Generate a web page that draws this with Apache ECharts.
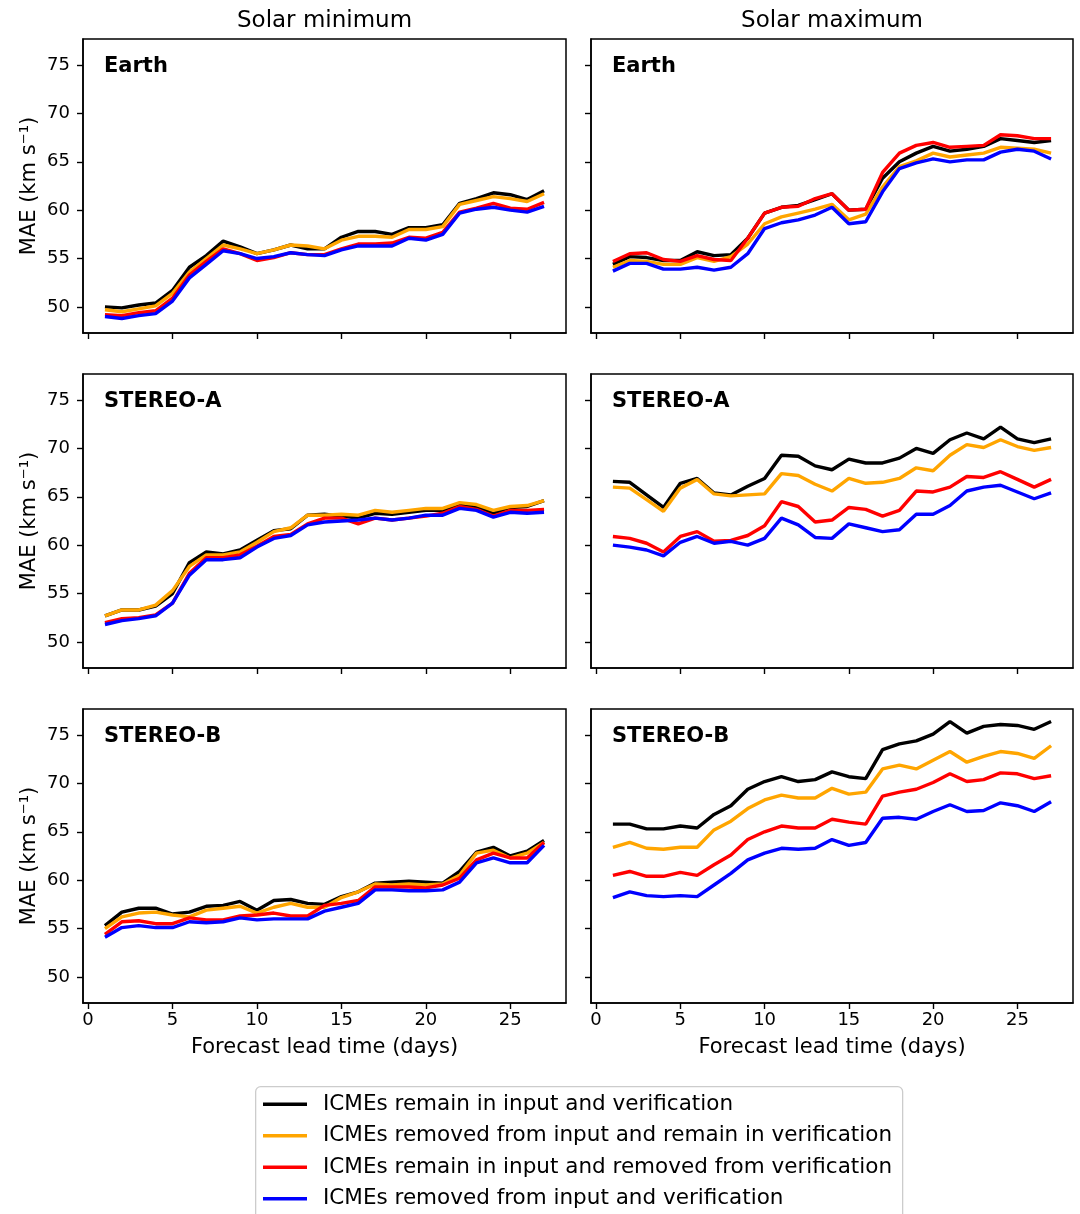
<!DOCTYPE html>
<html>
<head>
<meta charset="utf-8">
<script src="https://cdn.jsdelivr.net/npm/echarts@6/dist/echarts.min.js"></script>
<style>
html,body{margin:0;padding:0;background:#fff;}
#chart{width:1080px;height:1214px;}
</style>
</head>
<body>
<div id="chart"></div>
<script>
// ---------------- DATA ----------------
const days = [1,2,3,4,5,6,7,8,9,10,11,12,13,14,15,16,17,18,19,20,21,22,23,24,25,26,27];
const seriesNames = [
  'ICMEs remain in input and verification',
  'ICMEs removed from input and remain in verification',
  'ICMEs remain in input and removed from verification',
  'ICMEs removed from input and verification'
];
const columnTitles = ['Solar minimum', 'Solar maximum'];
const panelLabels = ['Earth', 'STEREO-A', 'STEREO-B'];
const xTicks = [0, 5, 10, 15, 20, 25];
const yTicks = [50, 55, 60, 65, 70, 75];
const xLabel = 'Forecast lead time (days)';
const yLabel = 'MAE (km s\u207B\u00B9)';

// Earth, solar minimum
const earthMinBlack  = [50.0,49.9,50.2,50.4,51.7,54.1,55.3,56.8,56.2,55.5,55.9,56.4,56.0,56.0,57.2,57.8,57.8,57.5,58.2,58.2,58.5,60.7,61.2,61.8,61.6,61.1,62.0];
const earthMinOrange = [49.7,49.5,49.8,50.1,51.4,53.6,55.0,56.4,56.0,55.5,55.9,56.4,56.3,56.0,56.9,57.3,57.3,57.2,58.0,58.0,58.3,60.6,61.0,61.4,61.2,60.9,61.7];
const earthMinRed    = [49.2,49.1,49.4,49.6,50.9,53.3,54.7,56.0,55.5,54.8,55.1,55.6,55.4,55.4,56.0,56.5,56.5,56.6,57.2,57.1,57.7,59.8,60.2,60.7,60.2,60.1,60.8];
const earthMinBlue   = [49.0,48.8,49.1,49.3,50.6,53.0,54.4,55.8,55.5,55.0,55.2,55.6,55.4,55.3,55.9,56.3,56.3,56.3,57.1,56.9,57.5,59.7,60.1,60.3,60.0,59.8,60.4];

// Earth, solar maximum
const earthMaxBlack  = [54.4,55.2,55.1,54.8,54.8,55.7,55.3,55.4,57.1,59.7,60.3,60.5,61.1,61.7,60.0,60.1,63.3,65.0,65.9,66.6,66.1,66.3,66.6,67.4,67.2,67.0,67.2];
const earthMaxOrange = [54.1,54.8,54.7,54.4,54.4,55.1,54.7,55.2,56.5,58.6,59.3,59.7,60.1,60.6,59.0,59.6,62.4,64.5,65.1,65.9,65.5,65.7,65.9,66.5,66.4,66.3,65.9];
const earthMaxRed    = [54.7,55.5,55.6,54.9,54.7,55.3,54.9,54.8,57.1,59.7,60.3,60.4,61.2,61.7,60.0,60.1,63.9,65.9,66.7,67.0,66.5,66.6,66.7,67.8,67.7,67.4,67.4];
const earthMaxBlue   = [53.7,54.5,54.5,53.9,53.9,54.1,53.8,54.1,55.5,58.1,58.7,59.0,59.5,60.3,58.6,58.8,61.9,64.3,64.9,65.3,65.0,65.2,65.2,66.0,66.3,66.1,65.3];

// STEREO-A, solar minimum
const staMinBlack  = [52.7,53.3,53.3,53.7,55.0,58.2,59.3,59.1,59.5,60.5,61.5,61.7,63.1,63.2,63.0,62.8,63.3,63.2,63.4,63.6,63.6,64.2,64.0,63.3,63.9,64.0,64.6];
const staMinOrange = [52.7,53.3,53.3,53.8,55.3,57.8,59.0,59.0,59.3,60.3,61.4,61.8,63.1,63.1,63.2,63.1,63.6,63.4,63.6,63.8,63.8,64.4,64.2,63.6,64.0,64.1,64.6];
const staMinRed    = [52.0,52.4,52.5,52.8,54.0,57.1,58.7,58.7,59.0,59.9,60.9,61.1,62.2,62.8,62.8,62.2,62.8,62.6,62.8,63.0,63.3,64.0,63.7,63.0,63.6,63.6,63.7];
const staMinBlue   = [51.8,52.2,52.4,52.7,54.0,56.9,58.5,58.5,58.7,59.8,60.7,61.0,62.1,62.4,62.5,62.6,62.8,62.6,62.8,63.1,63.1,63.8,63.6,62.9,63.4,63.3,63.4];

// STEREO-A, solar maximum
const staMaxBlack  = [66.6,66.5,65.2,63.9,66.4,66.9,65.4,65.2,66.1,66.9,69.3,69.2,68.2,67.8,68.9,68.5,68.5,69.0,70.0,69.5,70.9,71.6,71.0,72.2,71.0,70.6,71.0];
const staMaxOrange = [66.0,65.9,64.7,63.5,65.9,66.8,65.3,65.1,65.2,65.3,67.4,67.2,66.3,65.6,66.9,66.4,66.5,66.9,68.0,67.7,69.3,70.4,70.1,70.9,70.2,69.8,70.1];
const staMaxRed    = [60.9,60.7,60.2,59.3,60.9,61.4,60.4,60.5,61.0,62.0,64.5,64.0,62.4,62.6,63.9,63.7,63.0,63.6,65.6,65.5,66.0,67.1,67.0,67.6,66.8,66.0,66.8];
const staMaxBlue   = [60.0,59.8,59.5,58.9,60.3,60.9,60.2,60.4,60.0,60.7,62.8,62.1,60.8,60.7,62.2,61.8,61.4,61.6,63.2,63.2,64.1,65.6,66.0,66.2,65.5,64.8,65.4];

// STEREO-B, solar minimum
const stbMinBlack  = [55.3,56.7,57.1,57.1,56.5,56.7,57.3,57.4,57.8,56.9,57.9,58.0,57.6,57.5,58.3,58.8,59.7,59.8,59.9,59.8,59.7,60.9,62.9,63.4,62.5,63.0,64.1];
const stbMinOrange = [55.0,56.2,56.6,56.7,56.4,56.2,56.9,57.1,57.3,56.6,57.2,57.6,57.2,57.2,58.2,58.8,59.6,59.5,59.6,59.5,59.6,60.5,62.8,63.1,62.3,62.8,63.9];
const stbMinRed    = [54.4,55.7,55.8,55.5,55.5,56.1,55.9,55.9,56.3,56.4,56.6,56.3,56.3,57.4,57.6,57.9,59.3,59.3,59.3,59.2,59.5,60.2,62.1,62.8,62.3,62.3,63.9];
const stbMinBlue   = [54.1,55.1,55.3,55.1,55.1,55.7,55.6,55.7,56.1,55.9,56.0,56.0,56.0,56.8,57.2,57.6,59.0,59.0,58.9,58.9,59.0,59.8,61.8,62.3,61.8,61.8,63.6];

// STEREO-B, solar maximum
const stbMaxBlack  = [65.8,65.8,65.3,65.3,65.6,65.4,66.8,67.7,69.4,70.2,70.7,70.2,70.4,71.2,70.7,70.5,73.5,74.1,74.4,75.1,76.4,75.2,75.9,76.1,76.0,75.6,76.4];
const stbMaxOrange = [63.4,63.9,63.3,63.2,63.4,63.4,65.2,66.1,67.4,68.3,68.8,68.5,68.5,69.5,68.9,69.1,71.5,71.9,71.5,72.4,73.3,72.2,72.8,73.3,73.1,72.6,73.9];
const stbMaxRed    = [60.5,60.9,60.4,60.4,60.8,60.5,61.6,62.6,64.2,65.0,65.6,65.4,65.4,66.3,66.0,65.8,68.7,69.1,69.4,70.1,71.0,70.2,70.4,71.1,71.0,70.5,70.8];
const stbMaxBlue   = [58.2,58.8,58.4,58.3,58.4,58.3,59.5,60.7,62.1,62.8,63.3,63.2,63.3,64.2,63.6,63.9,66.4,66.5,66.3,67.1,67.8,67.1,67.2,68.0,67.7,67.1,68.1];

// panels in row-major order (row: Earth / STEREO-A / STEREO-B ; col: min / max)
const panelData = [
  [earthMinBlack, earthMinOrange, earthMinRed, earthMinBlue],
  [earthMaxBlack, earthMaxOrange, earthMaxRed, earthMaxBlue],
  [staMinBlack, staMinOrange, staMinRed, staMinBlue],
  [staMaxBlack, staMaxOrange, staMaxRed, staMaxBlue],
  [stbMinBlack, stbMinOrange, stbMinRed, stbMinBlue],
  [stbMaxBlack, stbMaxOrange, stbMaxRed, stbMaxBlue]
];

// ---------------- STYLE / LAYOUT ----------------
const FONT = 'DejaVu Sans';
const lineColors = ['#000000', '#FFA500', '#FF0000', '#0000FF'];
const colLeft = [83, 591];
const colWidth = [483, 482];
const rowTop = [39, 374, 709];
const panelHeight = 294;
const xMin = -0.3, xMax = 28.3;
const yMin = 47.3, yMax = 77.7;

const grids = [], xAxes = [], yAxes = [], series = [], graphics = [];

for (let p = 0; p < 6; p++) {
  const row = Math.floor(p / 2), col = p % 2;
  grids.push({
    left: colLeft[col], top: rowTop[row], width: colWidth[col], height: panelHeight,
    show: true, borderColor: '#000', borderWidth: 1.5, backgroundColor: 'rgba(0,0,0,0)',
    containLabel: false
  });
  xAxes.push({
    gridIndex: p, type: 'value', min: xMin, max: xMax,
    axisLine: { show: true, onZero: false, lineStyle: { color: '#000', width: 1.5 } },
    axisTick: { show: true, customValues: xTicks, length: 6, inside: false, lineStyle: { color: '#000', width: 1.4 } },
    axisLabel: { show: row === 2, customValues: xTicks, color: '#000', fontSize: 18, fontFamily: FONT, margin: 8 },
    splitLine: { show: false },
    name: row === 2 ? xLabel : '',
    nameLocation: 'middle', nameGap: 34,
    nameTextStyle: { fontSize: 21, color: '#000', fontFamily: FONT }
  });
  yAxes.push({
    gridIndex: p, type: 'value', min: yMin, max: yMax,
    axisLine: { show: true, onZero: false, lineStyle: { color: '#000', width: 1.5 } },
    axisTick: { show: true, customValues: yTicks, length: 6, inside: false, lineStyle: { color: '#000', width: 1.4 } },
    axisLabel: { show: col === 0, customValues: yTicks, color: '#000', fontSize: 18, fontFamily: FONT, margin: 13 },
    splitLine: { show: false },
    name: col === 0 ? yLabel : '',
    nameLocation: 'middle', nameGap: 43, nameRotate: 90,
    nameTextStyle: { fontSize: 21, color: '#000', fontFamily: FONT }
  });
  for (let s = 0; s < 4; s++) {
    series.push({
      name: seriesNames[s], type: 'line',
      xAxisIndex: p, yAxisIndex: p,
      data: days.map((d, i) => [d, panelData[p][s][i]]),
      showSymbol: false, symbol: 'none',
      lineStyle: { color: lineColors[s], width: 3.4 },
      itemStyle: { color: lineColors[s] },
      emphasis: { disabled: true },
      z: 2 + s
    });
  }
  graphics.push({
    type: 'text', x: colLeft[col] + 21, y: rowTop[row] + 28,
    style: { text: panelLabels[row], font: 'bold 21px "DejaVu Sans"', fill: '#000',
             textAlign: 'left', textVerticalAlign: 'middle' },
    z: 10
  });
}

for (let c = 0; c < 2; c++) {
  graphics.push({
    type: 'text', x: colLeft[c] + colWidth[c] / 2, y: 21,
    style: { text: columnTitles[c], font: '23px "DejaVu Sans"', fill: '#000',
             textAlign: 'center', textVerticalAlign: 'middle' }
  });
}

// legend frame (extends past the bottom edge, as in the reference)
graphics.push({
  type: 'rect', left: 255, top: 1086, z: 0,
  shape: { width: 647, height: 160, r: 5 },
  style: { fill: '#ffffff', stroke: '#cccccc', lineWidth: 1.3 }
});

const option = {
  animation: false,
  backgroundColor: '#ffffff',
  grid: grids,
  xAxis: xAxes,
  yAxis: yAxes,
  series: series,
  graphic: graphics,
  legend: {
    orient: 'vertical', left: 263, top: 1092,
    height: 122,
    data: seriesNames,
    icon: 'rect', itemWidth: 44, itemHeight: 3.5, itemGap: 7,
    padding: 0,
    borderWidth: 0,
    selectedMode: false,
    z: 5,
    textStyle: { fontSize: 21.5, color: '#000', fontFamily: FONT, lineHeight: 24.5, padding: [0, 0, 0, 11] }
  }
};

const chart = echarts.init(document.getElementById('chart'), null, { renderer: 'canvas' });
chart.setOption(option);
</script>
</body>
</html>
